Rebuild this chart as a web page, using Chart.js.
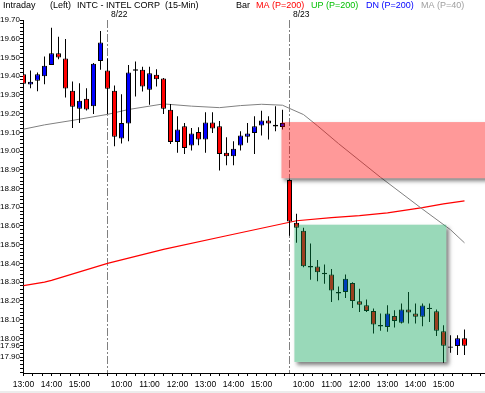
<!DOCTYPE html>
<html>
<head>
<meta charset="utf-8">
<script src="https://cdn.jsdelivr.net/npm/chart.js@4.4.1/dist/chart.umd.min.js"></script>
<style>
  html, body { margin: 0; padding: 0; background: #fff; }
  #grafico { display: block; }
</style>
</head>
<body>
<canvas id="grafico" width="485" height="393"></canvas>
<script>
// --- DADOS (INTC 15-Min) ---
const opens  = [19.410,19.355,19.375,19.400,19.460,19.523,19.494,19.322,19.226,19.280,19.240,19.481,
                19.430,19.322,19.067,19.147,19.437,19.434,19.327,19.407,19.387,19.221,19.049,19.132,19.030,19.102,
                19.062,19.152,19.132,18.991,18.973,19.030,19.076,19.097,19.136,19.163,19.141,19.129,
                18.846,18.617,18.575,18.386,18.384,18.350,18.341,18.247,18.247,18.296,18.198,18.177,18.146,
                18.071,18.061,18.120,18.083,18.154,18.133,18.115,18.164,18.145,18.038,17.957,17.959,18.000];
const highs  = [19.490,19.430,19.420,19.505,19.658,19.610,19.598,19.371,19.362,19.335,19.470,19.641,
                19.494,19.350,19.304,19.460,19.478,19.451,19.451,19.437,19.390,19.251,19.186,19.150,19.123,19.127,
                19.208,19.208,19.160,19.074,19.053,19.106,19.150,19.186,19.216,19.186,19.239,19.221,
                18.850,18.665,18.590,18.507,18.419,18.394,18.371,18.277,18.341,18.300,18.265,18.207,18.159,
                18.133,18.177,18.150,18.186,18.247,18.186,18.186,18.186,18.154,18.070,18.017,18.017,18.047];
const lows   = [19.345,19.335,19.320,19.357,19.460,19.490,19.286,19.123,19.150,19.217,19.198,19.434,
                19.198,19.026,19.040,19.053,19.292,19.318,19.248,19.345,19.198,19.038,18.991,18.985,19.003,19.031,
                18.991,19.097,18.897,18.925,18.925,19.003,19.044,18.985,19.083,19.062,19.106,19.115,
                18.548,18.511,18.380,18.313,18.305,18.292,18.194,18.203,18.215,18.162,18.141,18.141,18.026,
                18.040,18.035,18.058,18.079,18.079,18.079,18.065,18.088,18.012,17.870,17.923,17.911,17.911];
const closes = [19.360,19.370,19.410,19.456,19.523,19.500,19.334,19.237,19.269,19.222,19.466,19.580,
                19.333,19.077,19.150,19.419,19.429,19.345,19.416,19.384,19.226,19.049,19.115,19.017,19.094,19.062,
                19.152,19.120,18.985,18.973,19.012,19.083,19.094,19.132,19.163,19.147,19.131,19.150,
                18.624,18.590,18.385,18.378,18.353,18.342,18.256,18.239,18.318,18.199,18.180,18.146,18.074,
                18.063,18.133,18.093,18.154,18.138,18.115,18.175,18.157,18.040,17.960,17.950,18.000,17.960];

// médias móveis (barra -> valor)
const ma200Idx = [0, 3, 4, 12, 20, 29, 39, 44, 48, 52, 57, 60, 63];
const ma200Val = [18.282, 18.300, 18.310, 18.400, 18.475, 18.548, 18.628, 18.645, 18.655, 18.670, 18.698, 18.718, 18.734];
const ma40Idx  = [0, 3, 7, 12, 15, 20, 24, 28, 31, 34, 37, 38, 40, 42, 45, 51, 57, 61, 63];
const ma40Val  = [19.117, 19.140, 19.164, 19.196, 19.222, 19.252, 19.240, 19.232, 19.243, 19.250, 19.245, 19.228,
                  19.195, 19.135, 19.040, 18.860, 18.690, 18.580, 18.510];

// eixos
const xLabelIdx  = [0, 4, 8, 14, 18, 22, 26, 30, 34, 40, 44, 48, 52, 56, 60];
const xLabelText = ['13:00','14:00','15:00','10:00','11:00','12:00','13:00','14:00','15:00',
                    '10:00','11:00','12:00','13:00','14:00','15:00'];
const yLabelValues = [17.90, 17.96, 18.00, 18.10, 18.20, 18.30, 18.40, 18.50, 18.60, 18.70, 18.80, 18.90,
                      19.00, 19.10, 19.20, 19.30, 19.40, 19.50, 19.60, 19.70];
const dayIdx  = [12, 38];
const dayText = ['8/22', '8/23'];

// zonas: [barra inicial, barra final, preço baixo, preço alto]
const zonaVenda  = [36.85, 67, 18.855, 19.155];
const zonaAlvo   = [38.7, 60.4, 17.874, 18.607];

// --- FONTE ---
const FAMILIA = '"Liberation Sans", Arial, sans-serif';

const perto = (a, b) => Math.abs(a - b) < 1e-6;
const ehMenor = v => perto(v * 3 / 4, Math.round(v * 3 / 4));

// --- PLUGINS ---
const linhasDia = {
    id: 'linhasDia',
    beforeDatasetsDraw(chart) {
        const { ctx, chartArea, scales } = chart;
        ctx.save();
        ctx.strokeStyle = '#808080';
        ctx.lineWidth = 1;
        ctx.setLineDash([8, 2, 2, 2]);
        dayIdx.forEach(i => {
            const px = Math.round(scales.x.getPixelForValue(i) - 0.5) + 0.5;
            ctx.beginPath();
            ctx.moveTo(px, chartArea.top);
            ctx.lineTo(px, chartArea.bottom);
            ctx.stroke();
        });
        ctx.restore();
    }
};

function desenharZona(chart, z, cor) {
    const { ctx, chartArea, scales } = chart;
    const x0 = scales.x.getPixelForValue(z[0]);
    const x1 = scales.x.getPixelForValue(z[1]);
    const y0 = scales.y.getPixelForValue(z[3]);
    const y1 = scales.y.getPixelForValue(z[2]);
    ctx.save();
    ctx.beginPath();
    ctx.rect(chartArea.left, chartArea.top, chartArea.right - chartArea.left, chartArea.bottom - chartArea.top);
    ctx.clip();
    // sombra só do lado de fora
    ctx.save();
    ctx.beginPath();
    ctx.rect(0, 0, chart.width, chart.height);
    ctx.rect(x0, y0, x1 - x0, y1 - y0);
    ctx.clip('evenodd');
    ctx.shadowColor = 'rgba(0,0,0,0.5)';
    ctx.shadowBlur = 4;
    ctx.shadowOffsetX = 3 + 2000;
    ctx.shadowOffsetY = 3;
    ctx.fillStyle = '#000';
    ctx.fillRect(x0 - 2000, y0, x1 - x0, y1 - y0);
    ctx.restore();
    ctx.fillStyle = cor;
    ctx.fillRect(x0, y0, x1 - x0, y1 - y0);
    ctx.restore();
}

const zonas = {
    id: 'zonas',
    afterDatasetsDraw(chart) {
        desenharZona(chart, zonaVenda, 'rgba(255,0,0,0.4)');
        desenharZona(chart, zonaAlvo, 'rgba(0,160,80,0.4)');
    }
};

const cabecalho = {
    id: 'cabecalho',
    afterDraw(chart) {
        const { ctx, scales } = chart;
        ctx.save();
        ctx.font = '9px ' + FAMILIA;
        ctx.textBaseline = 'middle';
        ctx.textAlign = 'left';
        const partes = [
            ['Intraday', 3, '#000'], ['(Left)', 50, '#000'], ['INTC - INTEL CORP  (15-Min)', 77, '#000'],
            ['Bar', 236, '#000'], ['MA (P=200)', 256, '#ff0000'], ['UP (P=200)', 311, '#00c000'],
            ['DN (P=200)', 366, '#0000ff'], ['MA (P=40)', 421, '#a0a0a0']
        ];
        partes.forEach(p => { ctx.fillStyle = p[2]; ctx.fillText(p[0], p[1], 6); });
        ctx.fillStyle = '#000';
        ctx.font = '8.5px ' + FAMILIA;
        dayIdx.forEach((i, k) => {
            ctx.fillText(dayText[k], Math.round(scales.x.getPixelForValue(i)) + 3, 15);
        });
        ctx.fillStyle = '#ececec';
        ctx.fillRect(0, 391, chart.width, 2);
        ctx.restore();
    }
};

// --- GRÁFICO ---
Chart.defaults.font.family = FAMILIA;
Chart.defaults.font.size = 8.5;
Chart.defaults.color = '#000';

const ctx = document.getElementById('grafico').getContext('2d');
new Chart(ctx, {
    type: 'bar',
    data: {
        datasets: [
            {
                type: 'line', label: 'MA (P=200)', order: 5,
                data: ma200Idx.map((x, i) => ({ x, y: ma200Val[i] })),
                borderColor: '#ff0000', borderWidth: 1.2, pointRadius: 0, tension: 0
            },
            {
                type: 'line', label: 'MA (P=40)', order: 4,
                data: ma40Idx.map((x, i) => ({ x, y: ma40Val[i] })),
                borderColor: '#808080', borderWidth: 1, pointRadius: 0, tension: 0
            },
            {
                label: 'pavio', order: 3, grouped: false,
                data: lows.map((l, i) => ({ x: i, y: [l, highs[i]] })),
                backgroundColor: '#000', borderWidth: 0, barThickness: 1, inflateAmount: 0
            },
            {
                label: 'corpo', order: 2, grouped: false,
                data: opens.map((o, i) => ({ x: i, y: [o, closes[i]] })),
                backgroundColor: c => closes[c.dataIndex] >= opens[c.dataIndex] ? '#0000ff' : '#ff0000',
                borderColor: '#000', borderWidth: 1, borderSkipped: false,
                barThickness: 5, inflateAmount: 0
            }
        ]
    },
    options: {
        responsive: false,
        animation: false,
        events: [],
        layout: { padding: { top: 20, right: 0, left: 0, bottom: 0 } },
        plugins: { legend: { display: false }, tooltip: { enabled: false } },
        scales: {
            x: {
                type: 'linear', offset: false,
                min: -1 / 14, max: 66 - 1 / 14,
                afterBuildTicks(scale) {
                    const vals = [];
                    for (let k = 0; k * 4 / 3 <= 66; k++) vals.push(k * 4 / 3);
                    xLabelIdx.forEach(i => { if (!vals.some(v => perto(v, i))) vals.push(i); });
                    vals.sort((a, b) => a - b);
                    scale.ticks = vals.map(v => ({ value: v }));
                },
                afterFit(scale) { scale.height = 20; },
                ticks: {
                    autoSkip: false, maxRotation: 0, minRotation: 0, padding: 4,
                    callback(v) {
                        const j = xLabelIdx.findIndex(i => perto(i, v));
                        return j >= 0 ? xLabelText[j] : '';
                    }
                },
                grid: {
                    offset: false, drawOnChartArea: false, drawTicks: true, tickLength: 3,
                    tickColor: c => (c.tick && ehMenor(c.tick.value)) ? '#000' : 'rgba(0,0,0,0)'
                },
                border: { display: true, color: '#000', width: 1 }
            },
            y: {
                type: 'linear', position: 'left',
                min: 17.815, max: 19.70,
                afterBuildTicks(scale) {
                    const vals = [];
                    for (let k = 891; k <= 985; k++) vals.push(k / 50);
                    scale.ticks = vals.map(v => ({ value: v }));
                },
                afterFit(scale) { scale.width = 23; },
                ticks: {
                    autoSkip: false, padding: 0, font: { size: 8 },
                    callback(v) {
                        return yLabelValues.some(l => perto(l, v)) ? v.toFixed(2) : '';
                    }
                },
                grid: { drawOnChartArea: false, drawTicks: true, tickLength: 3, tickColor: '#000' },
                border: { display: true, color: '#000', width: 1 }
            }
        }
    },
    plugins: [linhasDia, zonas, cabecalho]
});
</script>
</body>
</html>
